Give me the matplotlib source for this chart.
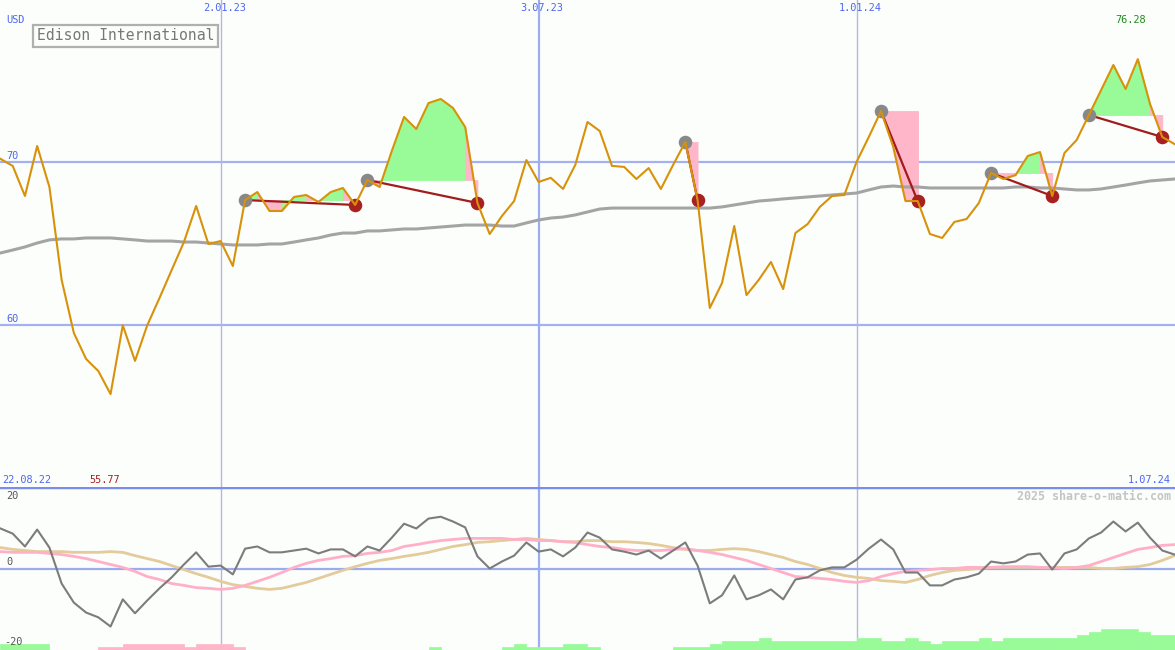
import matplotlib
matplotlib.use("Agg")
from matplotlib import pyplot as plt
import numpy as np

# weekly closes, USD
price = [70.17, 69.74, 67.90, 70.96, 68.45, 62.76, 59.51, 57.92, 57.18, 55.77,
         59.98, 57.80, 59.98, 61.65, 63.37, 65.08, 67.29, 64.96, 65.14, 63.61,
         67.65, 68.14, 66.98, 66.98, 67.84, 67.96, 67.53, 68.14, 68.39, 67.35,
         68.88, 68.45, 70.66, 72.74, 72.00, 73.59, 73.84, 73.29, 72.12, 67.47,
         65.57, 66.67, 67.59, 70.10, 68.76, 69.01, 68.33, 69.80, 72.43, 71.88,
         69.74, 69.68, 68.94, 69.61, 68.33, 69.80, 71.21, 67.65, 61.04, 62.57,
         66.06, 61.83, 62.76, 63.86, 62.20, 65.63, 66.18, 67.23, 67.90, 67.96,
         69.98, 71.51, 73.10, 70.90, 67.59, 67.59, 65.57, 65.33, 66.31, 66.49,
         67.47, 69.31, 68.94, 69.18, 70.35, 70.59, 67.90, 70.53, 71.33, 72.86,
         74.39, 75.92, 74.45, 76.28, 73.53, 71.51, 71.08]

# long moving average (gray)
avg_long = [64.41, 64.59, 64.78, 65.02, 65.21, 65.27, 65.27, 65.33, 65.33, 65.33,
            65.27, 65.21, 65.14, 65.14, 65.14, 65.08, 65.08, 65.02, 64.96, 64.90,
            64.90, 64.90, 64.96, 64.96, 65.08, 65.21, 65.33, 65.51, 65.63, 65.63,
            65.76, 65.76, 65.82, 65.88, 65.88, 65.94, 66.00, 66.06, 66.12, 66.12,
            66.12, 66.06, 66.06, 66.25, 66.43, 66.55, 66.61, 66.74, 66.92, 67.10,
            67.16, 67.16, 67.16, 67.16, 67.16, 67.16, 67.16, 67.16, 67.16, 67.23,
            67.35, 67.47, 67.59, 67.65, 67.72, 67.78, 67.84, 67.90, 67.96, 68.02,
            68.08, 68.27, 68.45, 68.51, 68.45, 68.45, 68.39, 68.39, 68.39, 68.39,
            68.39, 68.39, 68.39, 68.45, 68.45, 68.39, 68.39, 68.33, 68.27, 68.27,
            68.33, 68.45, 68.57, 68.70, 68.82, 68.88, 68.94]

# buy (gray) / sell (red) signal week indices
buy_idx = [20, 30, 56, 72, 81, 89]
sell_idx = [29, 39, 57, 75, 86, 95]

# lower panel indicators
osc = [10.9, 9.5, 6.0, 10.6, 5.7, -4.1, -9.3, -12.0, -13.3, -15.8,
       -8.4, -12.2, -8.7, -5.4, -2.4, 1.1, 4.4, 0.5, 0.8, -1.6,
       5.4, 6.0, 4.4, 4.4, 4.9, 5.4, 4.1, 5.2, 5.2, 3.3,
       6.0, 4.9, 8.4, 12.2, 10.9, 13.6, 14.1, 12.8, 11.2, 3.3,
       0.0, 1.9, 3.5, 7.1, 4.6, 5.2, 3.3, 5.7, 9.8, 8.4,
       5.2, 4.6, 3.8, 4.9, 2.7, 4.9, 7.1, 0.8, -9.5, -7.3,
       -1.9, -8.4, -7.3, -5.7, -8.4, -3.0, -2.4, -0.5, 0.3, 0.3,
       2.4, 5.4, 7.9, 5.2, -1.1, -1.1, -4.6, -4.6, -3.0, -2.4,
       -1.4, 1.9, 1.4, 1.9, 3.8, 4.1, -0.3, 4.1, 5.2, 8.2,
       9.8, 12.8, 10.1, 12.5, 8.4, 4.9, 3.8]

sig_pink = [4.6, 4.4, 4.4, 4.4, 4.1, 3.8, 3.3, 2.7, 1.9, 1.1,
            0.3, -0.8, -2.2, -3.0, -4.1, -4.6, -5.2, -5.4, -5.7, -5.4,
            -4.6, -3.5, -2.4, -1.1, 0.3, 1.4, 2.2, 2.7, 3.3, 3.5,
            4.1, 4.4, 4.9, 6.0, 6.5, 7.1, 7.6, 7.9, 8.2, 8.2,
            8.2, 8.2, 7.9, 7.9, 7.6, 7.6, 7.3, 7.1, 6.5, 6.0,
            5.7, 5.2, 4.9, 4.9, 4.9, 5.2, 5.4, 4.9, 4.4, 3.8,
            3.0, 2.2, 1.1, 0.0, -1.1, -2.2, -2.4, -2.7, -3.0, -3.5,
            -3.8, -3.3, -2.2, -1.4, -0.8, -0.5, -0.3, 0.0, 0.0, 0.3,
            0.3, 0.3, 0.5, 0.5, 0.5, 0.3, 0.3, 0.0, 0.3, 0.8,
            1.9, 3.0, 4.1, 5.2, 5.7, 6.3, 6.5]

sig_tan = [5.7, 5.2, 4.9, 4.6, 4.6, 4.6, 4.4, 4.4, 4.4, 4.6,
           4.4, 3.5, 2.7, 1.9, 0.8, -0.3, -1.4, -2.4, -3.5, -4.4,
           -4.9, -5.4, -5.7, -5.4, -4.6, -3.8, -2.7, -1.6, -0.5, 0.5,
           1.4, 2.2, 2.7, 3.3, 3.8, 4.4, 5.2, 6.0, 6.5, 7.1,
           7.3, 7.6, 7.9, 8.2, 7.9, 7.6, 7.3, 7.3, 7.6, 7.6,
           7.3, 7.3, 7.1, 6.8, 6.3, 5.7, 5.2, 4.9, 4.9, 5.2,
           5.4, 5.2, 4.6, 3.8, 3.0, 1.9, 1.1, 0.0, -1.1, -1.9,
           -2.4, -2.7, -3.3, -3.5, -3.8, -3.0, -1.9, -1.1, -0.5, -0.3,
           0.0, 0.3, 0.3, 0.3, 0.3, 0.3, 0.3, 0.3, 0.3, 0.3,
           0.0, 0.0, 0.3, 0.5, 1.1, 2.2, 3.5]

# bottom histogram levels per week interval (+ green / - pink)
bar_level = [2, 2, 2, 2, 0, 0, 0, 0, -1, -1, -2, -2, -2, -2, -2, -1, -2, -2, -2, -1,
             0, 0, 0, 0, 0, 0, 0, 0, 0, 0, 0, 0, 0, 0, 0,
             1, 0, 0, 0, 0, 0, 1, 2, 1, 1, 1, 2, 2, 1, 0, 0, 0, 0, 0, 0,
             1, 1, 1, 2, 3, 3, 3, 4, 3, 3, 3, 3, 3, 3, 3, 4, 4, 3, 3, 4, 3, 2,
             3, 3, 3, 4, 3, 4, 4, 4, 4, 4, 4, 5, 6, 7, 7, 7, 6, 5, 5]

date_pos = [18, 44, 70]
date_labels = ["2.01.23", "3.07.23", "1.01.24"]

W, H = 1175, 650
BG = "#fcfefc"
BLUE_TXT = "#4d66f0"
GRID = "#a3b1f2"
GREEN_F = "#98fb98"
PINK_F = "#ffb6c8"
MONO = "DejaVu Sans Mono"


def px(x, y):
    return x / W, 1 - y / H


def main():
    x = np.arange(len(price))
    fig = plt.figure(figsize=(W / 100, H / 100), dpi=100, facecolor=BG)
    ax = fig.add_axes([0, 163 / H, 1, 487 / H])
    ax2 = fig.add_axes([0, 0, 1, 163 / H])
    for a in (ax, ax2):
        a.set_axis_off()
        a.set_xlim(-0.04, 96.04)
    ax.set_ylim(50.08, 79.90)
    ax2.set_ylim(-22.2, 22.2)

    # grid
    for lvl in (70, 60):
        ax.axhline(lvl, color=GRID, lw=1.6, zorder=0)
    for a in (ax, ax2):
        for k, p in enumerate(date_pos):
            if k == 1:
                a.axvline(p, color="#9cadf4", lw=1.6, zorder=0)
            else:
                a.axvline(p, color="#b4b8d8", lw=1.0, zorder=0)
    ax2.axhline(0, color="#9aabf0", lw=1.6, zorder=0)
    ax2.axhline(22.2, color="#7a8cec", lw=2.5, zorder=0)

    # signal fills
    for b, s in zip(buy_idx, sell_idx):
        entry = price[b]
        for i in range(b, s):
            col = GREEN_F if price[i + 1] >= entry else PINK_F
            ax.fill_between([i, i + 1], [price[i], price[i + 1]], entry,
                            facecolor=col, edgecolor=col, lw=0.6, zorder=1)

    ax.plot(x, avg_long, color="#a4a4a4", lw=2.2, zorder=2)

    for b, s in zip(buy_idx, sell_idx):
        ax.plot([b, s], [price[b], price[s]], color="#a11c1c", lw=1.6, zorder=3)
    ax.scatter([x[i] for i in buy_idx], [price[i] for i in buy_idx],
               s=95, color="#888888", zorder=4, lw=0)
    ax.scatter([x[i] for i in sell_idx], [price[i] for i in sell_idx],
               s=95, color="#a82020", zorder=4, lw=0)
    ax.plot(x, price, color="#d8920a", lw=1.5, zorder=5)

    # lower panel
    step = 0.82
    for i, lv in enumerate(bar_level):
        if lv == 0:
            continue
        col = GREEN_F if lv > 0 else PINK_F
        ax2.bar(i + 0.5, abs(lv) * step, width=1.0, bottom=-22.2,
                facecolor=col, edgecolor=col, lw=0.5, zorder=1)
    ax2.plot(x, sig_tan, color="#e3cb9c", lw=2.0, zorder=2)
    ax2.plot(x, sig_pink, color="#ffb0c8", lw=2.0, zorder=2)
    ax2.plot(x, osc, color="#7c7c7c", lw=1.5, zorder=3)

    # texts
    fs = 7.4
    for p, lab in zip(date_pos, date_labels):
        fig.text(*px(p * 12.23 + 4, 8), lab, ha="center", va="center",
                 fontsize=fs, family=MONO, color=BLUE_TXT)
    fig.text(*px(6, 20), "USD", ha="left", va="center", fontsize=fs, family=MONO, color=BLUE_TXT)
    fig.text(*px(6, 156), "70", ha="left", va="center", fontsize=fs, family=MONO, color=BLUE_TXT)
    fig.text(*px(6, 319), "60", ha="left", va="center", fontsize=fs, family=MONO, color=BLUE_TXT)
    fig.text(*px(1146, 20), "76.28", ha="right", va="center", fontsize=fs, family=MONO, color="#1f8a1f")
    fig.text(*px(2, 480), "22.08.22", ha="left", va="center", fontsize=fs, family=MONO, color=BLUE_TXT)
    fig.text(*px(89, 480), "55.77", ha="left", va="center", fontsize=fs, family=MONO, color="#a82020")
    fig.text(*px(1171, 480), "1.07.24", ha="right", va="center", fontsize=fs, family=MONO, color=BLUE_TXT)
    fig.text(*px(6, 496), "20", ha="left", va="center", fontsize=fs, family=MONO, color="#555555")
    fig.text(*px(6, 562), "0", ha="left", va="center", fontsize=fs, family=MONO, color="#555555")
    fig.text(*px(4, 642), "-20", ha="left", va="center", fontsize=fs, family=MONO, color="#555555")
    fig.text(*px(1171, 496), "2025 share-o-matic.com", ha="right", va="center",
             fontsize=8.4, family=MONO, color="#c4c4c4", fontweight="bold")
    fig.text(*px(37, 36), "Edison International", ha="left", va="center",
             fontsize=10.6, family=MONO, color="#777777",
             bbox=dict(boxstyle="square,pad=0.25", fc=BG, ec="#b0b0b0", lw=1.6))

    fig.savefig("out.png", dpi=100, facecolor=BG)


if __name__ == "__main__":
    main()
